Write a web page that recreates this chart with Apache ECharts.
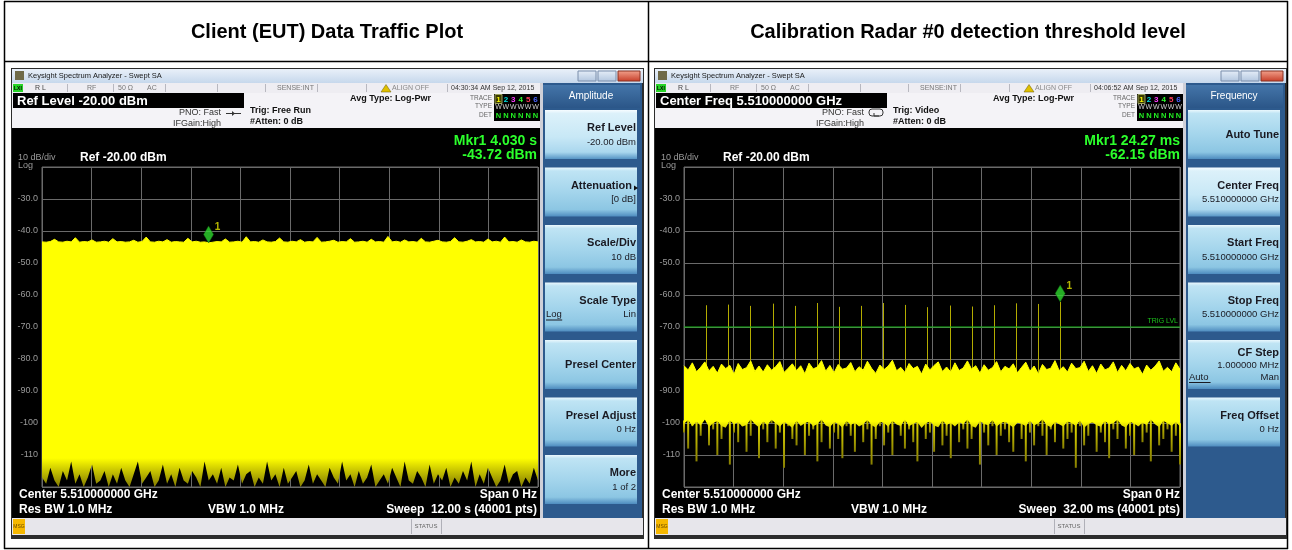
<!DOCTYPE html>
<html><head><meta charset="utf-8">
<script src="https://cdn.jsdelivr.net/npm/echarts@6/dist/echarts.min.js"></script>
<style>html,body{margin:0;padding:0;background:#fff}#c{width:1292px;height:550px}</style>
</head><body><div id="c"></div>
<script>
// ---------------- data ----------------
const panelTitles = ['Client (EUT) Data Traffic Plot', 'Calibration Radar #0 detection threshold level'];
const yTickValues = [-120,-110,-100,-90,-80,-70,-60,-50,-40,-30,-20];
const yTickLabels = ['', '-110', '-100', '-90.0', '-80.0', '-70.0', '-60.0', '-50.0', '-40.0', '-30.0', ''];
const leftSweep = 12;      // s
const rightSweep = 32;     // ms
const leftUpper = [
-43.4,-43.5,-43.3,-42.6,-43.4,-43.5,-43.2,-43.4,-42.1,-43.5,-43.3,-43.4,-42.8,-43.5,-43.4,-43.2,-43.5,-42.4,-43.4,-43.3,
-43.5,-43.4,-42.9,-43.5,-43.3,-41.9,-43.4,-43.5,-43.2,-43.4,-42.7,-43.5,-43.3,-43.4,-43.5,-42.3,-43.4,-43.2,-43.5,-43.4,
-43.7,-43.5,-43.3,-43.4,-42.5,-43.5,-43.4,-43.2,-43.5,-41.8,-43.4,-43.3,-43.5,-42.8,-43.4,-43.5,-43.3,-42.2,-43.4,-43.5,
-43.2,-43.4,-42.7,-43.5,-43.3,-43.4,-42.0,-43.5,-43.4,-43.2,-42.9,-43.5,-43.3,-43.4,-42.4,-43.5,-43.4,-43.2,-43.5,-42.6,
-43.4,-43.3,-43.5,-41.7,-43.4,-43.2,-43.5,-42.8,-43.4,-43.3,-43.5,-42.3,-43.4,-43.5,-43.2,-42.9,-43.4,-43.5,-43.3,-42.1,
-43.4,-43.5,-43.2,-42.7,-43.4,-43.3,-43.5,-42.5,-43.4,-43.2,-43.5,-41.9,-43.4,-43.3,-43.5,-42.8,-43.4,-43.5,-43.2,-43.4];
const leftLower = [
-117,-119,-114,-118,-120,-115,-118,-112,-119,-116,-120,-117,-113,-119,-118,-115,-120,-116,-119,-114,
-118,-120,-116,-112,-119,-117,-115,-120,-118,-113,-119,-116,-120,-114,-118,-119,-115,-117,-120,-112,
-118,-116,-119,-114,-120,-117,-118,-113,-119,-116,-115,-120,-117,-119,-112,-118,-116,-120,-114,-119,
-117,-115,-120,-118,-113,-119,-116,-118,-120,-114,-117,-119,-112,-118,-116,-120,-115,-119,-117,-113,
-120,-118,-116,-119,-114,-117,-120,-112,-118,-119,-115,-117,-120,-113,-119,-116,-118,-114,-120,-117,
-119,-115,-118,-112,-120,-116,-119,-114,-117,-120,-118,-113,-119,-116,-115,-120,-117,-119,-114,-118];
const rightUpper = [
-82.1,-83.4,-81.2,-84.0,-82.6,-80.9,-83.7,-82.3,-84.4,-81.6,-83.0,-82.0,-84.8,-81.4,-83.3,-82.7,-80.6,-83.9,-82.2,-84.1,
-81.8,-83.5,-82.4,-80.8,-84.2,-82.9,-81.5,-83.6,-82.1,-84.6,-81.3,-83.1,-82.5,-80.5,-83.8,-82.0,-84.3,-81.7,-83.2,-82.8,
-81.1,-84.0,-82.4,-83.5,-80.7,-82.9,-84.5,-81.9,-83.3,-82.2,-80.4,-83.7,-82.6,-84.2,-81.4,-83.0,-82.3,-84.7,-81.6,-83.4,
-82.0,-80.9,-83.9,-82.5,-84.1,-81.2,-83.6,-82.8,-80.6,-83.2,-82.1,-84.4,-81.8,-83.5,-82.7,-80.8,-84.0,-82.3,-83.1,-81.5,
-84.3,-82.6,-81.0,-83.8,-82.2,-84.6,-81.7,-83.3,-82.9,-80.5,-83.6,-82.4,-84.1,-81.3,-83.0,-82.7,-80.7,-83.9,-82.1,-84.5,
-81.6,-83.4,-82.8,-80.9,-84.2,-82.0,-83.7,-81.4,-83.1,-82.5,-84.8,-81.9,-83.5,-82.3,-80.6,-83.8,-82.6,-84.0,-81.2,-83.2];
// bottom of the solid part of the right-hand noise band
const rightCore = [
-100.2,-99.1,-101.0,-99.6,-100.8,-98.9,-101.3,-100.0,-99.4,-100.9,-101.5,-99.2,-100.4,-99.8,-101.1,-100.6,-98.8,-100.3,-101.4,-99.5,
-100.7,-99.0,-100.1,-101.2,-99.7,-100.5,-101.6,-99.3,-100.9,-100.0,-99.6,-101.0,-100.3,-98.9,-100.8,-101.3,-99.8,-100.2,-101.5,-99.4,
-100.6,-99.9,-101.1,-100.4,-99.1,-100.7,-101.4,-99.6,-100.0,-101.2,-99.3,-100.5,-100.9,-99.0,-101.0,-100.2,-99.7,-101.6,-100.1,-99.5,
-100.8,-101.3,-99.2,-100.6,-100.0,-101.1,-99.8,-100.4,-98.9,-100.9,-101.5,-99.4,-100.3,-100.7,-99.1,-101.2,-100.0,-99.6,-100.5,-101.4,
-99.9,-100.2,-101.0,-99.3,-100.8,-100.1,-98.8,-100.6,-101.3,-99.7,-100.4,-101.1,-99.5,-100.0,-100.9,-99.2,-101.5,-100.3,-99.8,-100.7,
-101.2,-99.4,-100.5,-100.0,-99.0,-100.8,-101.4,-99.6,-100.2,-101.0,-99.9,-100.6,-98.9,-100.4,-101.3,-99.3,-100.1,-100.9,-99.7,-101.1];
// deepest excursions of the right-hand noise band
const rightLower = [
-103,-108,-101,-112,-104,-99,-107,-102,-110,-105,-100,-113,-103,-106,-101,-109,-104,-98,-111,-102,
-106,-100,-108,-103,-114,-101,-105,-107,-99,-110,-104,-102,-112,-106,-100,-108,-103,-105,-111,-101,
-104,-109,-99,-106,-102,-113,-105,-101,-107,-103,-110,-100,-104,-108,-102,-106,-112,-99,-105,-103,
-109,-101,-107,-104,-111,-100,-106,-102,-108,-105,-99,-113,-103,-107,-101,-110,-104,-102,-106,-109,
-100,-105,-112,-103,-107,-101,-104,-110,-102,-106,-99,-108,-105,-103,-114,-101,-107,-104,-100,-109,
-103,-106,-111,-102,-105,-99,-108,-104,-110,-101,-106,-103,-112,-100,-107,-105,-102,-109,-104,-113];
const pulseTimes = [1.42,2.85,4.28,5.71,7.13,8.56,9.99,11.42,12.85,14.27,15.70,17.13,18.56,19.99,21.41,22.84,24.27];
const pulseTops  = [-63.2,-63.0,-63.4,-62.7,-63.4,-62.5,-63.7,-63.4,-62.5,-63.1,-63.8,-63.3,-63.6,-63.2,-62.6,-62.8,-62.15];
const pulseBase = -84;
const markerLeft = [4.030, -43.72];
const markerRight = [24.27, -62.15];
const trigLevel = -70;

// ---------------- chrome helpers ----------------
const FF = '"Liberation Sans", Arial, Helvetica, sans-serif';
const G = [];
function fnt(s, b) { return (b ? 'bold ' : '') + s + 'px ' + FF; }
function vgrad(stops) { return {type:'linear', x:0, y:0, x2:0, y2:1, colorStops: stops.map(s => ({offset:s[0], color:s[1]}))}; }
function rect(x, y, w, h, fill, st) { G.push({type:'rect', z:-1, silent:true, shape:{x:x, y:y, width:w, height:h}, style:Object.assign({fill:fill}, st || {})}); }
function txt(x, y, t, s, c, o) { o = o || {}; G.push({type:'text', z:-1, silent:true, x:x, y:y, style:{text:t, font:fnt(s, o.bold), fill:c, textAlign:o.align || 'left', textVerticalAlign:'middle'}}); }
function ln(x1, y1, x2, y2, c, w) { G.push({type:'line', z:-1, silent:true, shape:{x1:x1, y1:y1, x2:x2, y2:y2}, style:{stroke:c, lineWidth:w || 1}}); }

const keyNormal = vgrad([[0,'#eaf7fd'],[0.07,'#bfe4f4'],[0.5,'#a4d5ec'],[0.86,'#8cc6e3'],[1,'#4e8cbf']]);
const keySel = vgrad([[0,'#f6fcff'],[0.07,'#dcf1fa'],[0.55,'#c8e8f6'],[0.86,'#aad7ee'],[1,'#5795c5']]);

function panel(dx, p) {
  rect(dx+11, 68, 633, 471, '#2c2c2c');
  rect(dx+12, 69, 631, 14, vgrad([[0,'#e9f0f9'],[1,'#c6d8ec']]));
  rect(dx+15, 71, 9, 9, '#6f6a48');
  txt(dx+28, 76, 'Keysight Spectrum Analyzer - Swept SA', 7.5, '#1a1a1a');
  rect(dx+578, 71, 18, 10, vgrad([[0,'#e6eef8'],[1,'#b2c6df']]), {stroke:'#7a8eab', lineWidth:1});
  rect(dx+598, 71, 18, 10, vgrad([[0,'#e6eef8'],[1,'#b2c6df']]), {stroke:'#7a8eab', lineWidth:1});
  rect(dx+618, 71, 22, 10, vgrad([[0,'#f3a38e'],[1,'#c63d28']]), {stroke:'#8a3020', lineWidth:1});
  rect(dx+12, 83, 530, 10, '#eeedf2');
  [67,113,165,217,265,317,366,447].forEach(x => ln(dx+x+0.5, 84, dx+x+0.5, 92, '#b8b8c0'));
  rect(dx+13, 84, 10, 8, '#27d427');
  txt(dx+14, 88.5, 'LXI', 5, '#000', {bold:true});
  txt(dx+35, 88.5, 'R L', 7, '#444');
  txt(dx+87, 88.5, 'RF', 7, '#777');
  txt(dx+118, 88.5, '50 Ω', 7, '#777');
  txt(dx+147, 88.5, 'AC', 7, '#777');
  txt(dx+277, 88.5, 'SENSE:INT', 7, '#777');
  G.push({type:'polygon', z:-1, silent:true, shape:{points:[[dx+386,84.5],[dx+381,92],[dx+391,92]]}, style:{fill:'#e0c000', stroke:'#6a5a00', lineWidth:0.5}});
  txt(dx+392, 88.5, 'ALIGN OFF', 7, '#888');
  txt(dx+451, 88.5, p.time, 7, '#333');
  rect(dx+12, 93, 530, 35, '#f4f3f7');
  rect(dx+13, 93, 231, 15, '#000');
  txt(dx+17, 101, p.refBox, 13, '#ffffff', {bold:true});
  txt(dx+221, 113, 'PNO: Fast', 9, '#333', {align:'right'});
  txt(dx+221, 123.5, 'IFGain:High', 9, '#333', {align:'right'});
  if (p.trigIcon === 'free') {
    ln(dx+226, 113.5, dx+241, 113.5, '#333', 1);
    G.push({type:'polygon', z:-1, silent:true, shape:{points:[[dx+232,111],[dx+235,113.5],[dx+232,116]]}, style:{fill:'#333'}});
  } else {
    G.push({type:'rect', z:-1, silent:true, shape:{x:dx+226, y:109, width:14, height:7, r:3}, style:{fill:'none', stroke:'#333', lineWidth:1}});
    G.push({type:'polyline', z:-1, silent:true, shape:{points:[[dx+231,113],[dx+231,116],[dx+236,116]]}, style:{stroke:'#333', lineWidth:1, fill:'none'}});
  }
  txt(dx+250, 110.5, p.trig, 9, '#111', {bold:true});
  txt(dx+250, 122, '#Atten: 0 dB', 9, '#111', {bold:true});
  txt(dx+350, 98.5, 'Avg Type: Log-Pwr', 9, '#111', {bold:true});
  txt(dx+492, 98, 'TRACE', 6.5, '#666', {align:'right'});
  txt(dx+492, 106.5, 'TYPE', 6.5, '#666', {align:'right'});
  txt(dx+492, 115, 'DET', 6.5, '#666', {align:'right'});
  rect(dx+494, 94, 47, 27, '#000');
  const tc = ['#f4f400','#00e0e0','#ff3cff','#2cff2c','#ff3a5a','#4a64ff'];
  rect(dx+495, 94.5, 7, 9, '#3a3a00', {stroke:'#9aa060', lineWidth:1});
  tc.forEach((c, i) => {
    txt(dx+498.5+i*7.4, 99.5, String(i+1), 8, c, {bold:true, align:'center'});
    txt(dx+498.5+i*7.4, 107.5, 'W', 7, '#cfcfcf', {align:'center'});
    txt(dx+498.5+i*7.4, 116, 'N', 7.5, '#22ee22', {bold:true, align:'center'});
  });
  rect(dx+12, 128, 529, 390, '#000');
  txt(dx+18, 157.5, '10 dB/div', 9, '#9a9a9a');
  txt(dx+18, 165.5, 'Log', 9, '#9a9a9a');
  txt(dx+80, 157.5, 'Ref -20.00 dBm', 12, '#ffffff', {bold:true});
  txt(dx+537, 141, p.mkr1, 14, '#2cff2c', {bold:true, align:'right'});
  txt(dx+537, 155, p.mkr2, 14, '#2cff2c', {bold:true, align:'right'});
  txt(dx+19, 495, 'Center 5.510000000 GHz', 12, '#ffffff', {bold:true});
  txt(dx+19, 509.5, 'Res BW 1.0 MHz', 12, '#ffffff', {bold:true});
  txt(dx+208, 509.5, 'VBW 1.0 MHz', 12, '#ffffff', {bold:true});
  txt(dx+537, 495, 'Span 0 Hz', 12, '#ffffff', {bold:true, align:'right'});
  txt(dx+537, 509.5, p.sweep, 12, '#ffffff', {bold:true, align:'right'});
  if (p.trigLabel) txt(dx+535, 321.5, p.trigLabel, 7, '#1cc41c', {align:'right'});
  rect(dx+540, 83, 3, 435, '#cfd0d8');
  rect(dx+543, 83, 99, 435, '#2d5a8d');
  rect(dx+543, 85, 97, 23, vgrad([[0,'#4475a9'],[1,'#2b5688']]));
  txt(dx+591, 96, p.menu, 10, '#ffffff', {align:'center'});
  p.keys.forEach((k, i) => {
    if (!k) return;
    const T = 110 + 57.5 * i;
    rect(dx+545, T, 92, 49, k.sel ? keySel : keyNormal);
    const R = dx+636;
    if (k.single) { txt(R, T+25, k.label, 11, '#1a1a22', {bold:true, align:'right'}); return; }
    if (k.three) {
      txt(R, T+13, k.label, 11, '#1a1a22', {bold:true, align:'right'});
      txt(R, T+25.5, k.value, 9.5, '#1a1a22', {align:'right'});
      txt(dx+546, T+37, k.left, 9.5, '#1a1a22');
      ln(dx+546, T+42.5, dx+546+k.left.length*5.4, T+42.5, '#1a1a22', 1);
      txt(R, T+37, k.right, 9.5, '#1a1a22', {align:'right'});
      return;
    }
    txt(k.arrow ? R-4 : R, T+18, k.label, 11, '#1a1a22', {bold:true, align:'right'});
    if (k.arrow) G.push({type:'polygon', z:-1, silent:true, shape:{points:[[R-2,T+18],[R+2,T+20.5],[R-2,T+23]]}, style:{fill:'#111'}});
    if (k.left) {
      txt(dx+546, T+32, k.left, 9.5, '#1a1a22');
      ln(dx+546, T+37.5, dx+546+k.left.length*5.4, T+37.5, '#1a1a22', 1);
      txt(R, T+32, k.right, 9.5, '#1a1a22', {align:'right'});
    } else {
      txt(R, T+32, k.value, 9.5, '#1a1a22', {align:'right'});
    }
  });
  rect(dx+12, 518, 631, 17, '#e7e6eb');
  rect(dx+13, 519, 12, 15, '#f6b800');
  txt(dx+19, 526.5, 'MSG', 5, '#6a4a00', {align:'center'});
  ln(dx+411.5, 519, dx+411.5, 534, '#b0b0b8');
  ln(dx+441.5, 519, dx+441.5, 534, '#b0b0b8');
  txt(dx+426, 526.5, 'STATUS', 6, '#666', {align:'center'});
}

ln(4, 1.5, 1288, 1.5, '#000', 1.5);
ln(4, 61.5, 1288, 61.5, '#000', 1.5);
ln(4, 548.5, 1288, 548.5, '#000', 1.5);
ln(4.5, 1, 4.5, 549, '#000', 1.5);
ln(648.5, 1, 648.5, 549, '#000', 1.5);
ln(1287.5, 1, 1287.5, 549, '#000', 1.5);
txt(327, 32, panelTitles[0], 20, '#000', {bold:true, align:'center'});
txt(968, 32, panelTitles[1], 20, '#000', {bold:true, align:'center'});

panel(0, {time:'04:30:34 AM Sep 12, 2015', refBox:'Ref Level -20.00 dBm', trigIcon:'free', trig:'Trig: Free Run',
  mkr1:'Mkr1 4.030 s', mkr2:'-43.72 dBm', sweep:'Sweep  12.00 s (40001 pts)', menu:'Amplitude',
  keys:[{label:'Ref Level', value:'-20.00 dBm', sel:true}, {label:'Attenuation', value:'[0 dB]', arrow:true},
        {label:'Scale/Div', value:'10 dB'}, {label:'Scale Type', left:'Log', right:'Lin'},
        {label:'Presel Center', single:true}, {label:'Presel Adjust', value:'0 Hz'}, {label:'More', value:'1 of 2'}]});
panel(643, {time:'04:06:52 AM Sep 12, 2015', refBox:'Center Freq 5.510000000 GHz', trigIcon:'video', trig:'Trig: Video',
  mkr1:'Mkr1 24.27 ms', mkr2:'-62.15 dBm', sweep:'Sweep  32.00 ms (40001 pts)', menu:'Frequency', trigLabel:'TRIG LVL',
  keys:[{label:'Auto Tune', single:true}, {label:'Center Freq', value:'5.510000000 GHz', sel:true},
        {label:'Start Freq', value:'5.510000000 GHz'}, {label:'Stop Freq', value:'5.510000000 GHz'},
        {label:'CF Step', value:'1.000000 MHz', left:'Auto', right:'Man', three:true}, {label:'Freq Offset', value:'0 Hz'}, null]});

// ---------------- chart ----------------
function times(arr, sweep) { return arr.map((_, i) => i * sweep / (arr.length - 1)); }
const tL = times(leftUpper, leftSweep);
const tR = times(rightUpper, rightSweep);
const GRIDC = '#6a6a6a';
function xAx(gi, max) {
  return {type:'value', gridIndex:gi, min:0, max:max, interval:max/10, axisLabel:{show:false}, axisTick:{show:false},
    axisLine:{show:false}, splitLine:{show:true, lineStyle:{color:GRIDC, width:1}}};
}
function yAx(gi) {
  return {type:'value', gridIndex:gi, min:-120, max:-20, interval:10, axisTick:{show:false}, axisLine:{show:false},
    splitLine:{show:true, lineStyle:{color:GRIDC, width:1}},
    axisLabel:{color:'#9a9a9a', fontSize:9, fontFamily:FF, margin:4,
      formatter: v => { const i = yTickValues.indexOf(v); return i >= 0 ? yTickLabels[i] : ''; }}};
}
// solid band from upper envelope down to "solid" edge; optional thin streaks further down to the deepest values
function band(gi, t, upper, solid, deep, fadeFrom, fadeTo) {
  return {type:'custom', xAxisIndex:gi, yAxisIndex:gi, z:2, silent:true,
    data: t.map((x, i) => [x, upper[i], solid[i], deep ? deep[i] : solid[i]]),
    renderItem: (params, api) => {
      if (params.dataIndexInside !== 0) return null;
      const n = params.dataInsideLength;
      const top = [], bot = [], kids = [];
      for (let j = 0; j < n; j++) {
        const x = api.value(0, j);
        top.push(api.coord([x, api.value(1, j)]));
        bot.push(api.coord([x, api.value(2, j)]));
      }
      const ya = api.coord([0, fadeFrom])[1], yb = api.coord([0, fadeTo])[1];
      const fill = {type:'linear', global:true, x:0, y:ya, x2:0, y2:yb,
        colorStops:[{offset:0, color:'#ffff00'}, {offset:1, color:'#8f8800'}]};
      if (deep) {
        for (let j = 0; j < n; j++) {
          const x = api.value(0, j);
          const a = api.coord([x, api.value(2, j) + 1]);
          const b = api.coord([x, api.value(3, j)]);
          if (b[1] > a[1]) kids.push({type:'line', shape:{x1:a[0], y1:a[1], x2:b[0], y2:b[1]},
            style:{stroke:{type:'linear', global:true, x:0, y:a[1], x2:0, y2:b[1], colorStops:[{offset:0, color:'#e6de00'}, {offset:1, color:'#877f00'}]}, lineWidth:2}});
        }
      }
      kids.push({type:'polygon', shape:{points: top.concat(bot.slice().reverse())}, style:{fill:fill}});
      kids.push({type:'polyline', shape:{points: top}, style:{stroke:'#ffff00', lineWidth:1, fill:null}});
      return {type:'group', children:kids};
    }};
}
function marker(gi, m) {
  return {type:'scatter', xAxisIndex:gi, yAxisIndex:gi, z:6, silent:true, symbol:'diamond', symbolSize:[10,17], symbolOffset:[0,'-50%'],
    itemStyle:{color:'#2ed82e', borderColor:'#0b5a0b', borderWidth:0.5},
    label:{show:true, formatter:'1', position:'right', distance:1, offset:[0,-7], color:'#e2e200', fontSize:10, fontWeight:'bold', fontFamily:FF},
    data:[m]};
}
const series = [
  band(0, tL, leftUpper, leftLower, null, -111, -119),
  {type:'custom', xAxisIndex:1, yAxisIndex:1, z:1, silent:true,
    data: pulseTimes.map((t, i) => [t, pulseTops[i], pulseBase]),
    renderItem: (params, api) => {
      const a = api.coord([api.value(0), api.value(2)]);
      const b = api.coord([api.value(0), api.value(1)]);
      const x = Math.round(a[0]) + 0.5;
      return {type:'line', shape:{x1:x, y1:a[1], x2:x, y2:b[1]}, style:{stroke:'#b3ab00', lineWidth:1}};
    }},
  band(1, tR, rightUpper, rightCore, rightLower, -99.5, -105),
  {type:'line', xAxisIndex:1, yAxisIndex:1, silent:true, z:3, symbol:'none',
    lineStyle:{color:'#16b816', width:1}, data:[[0, trigLevel], [rightSweep, trigLevel]]},
  marker(0, markerLeft),
  marker(1, markerRight)
];

const chart = echarts.init(document.getElementById('c'), null, {renderer:'canvas'});
chart.setOption({
  backgroundColor:'#ffffff',
  animation:false,
  grid:[
    {left:42, top:167, width:496, height:320, show:true, borderColor:GRIDC, borderWidth:1, backgroundColor:'transparent'},
    {left:684, top:167, width:496, height:320, show:true, borderColor:GRIDC, borderWidth:1, backgroundColor:'transparent'}
  ],
  xAxis:[xAx(0, leftSweep), xAx(1, rightSweep)],
  yAxis:[yAx(0), yAx(1)],
  graphic:{elements:G},
  series:series
});
</script></body></html>
